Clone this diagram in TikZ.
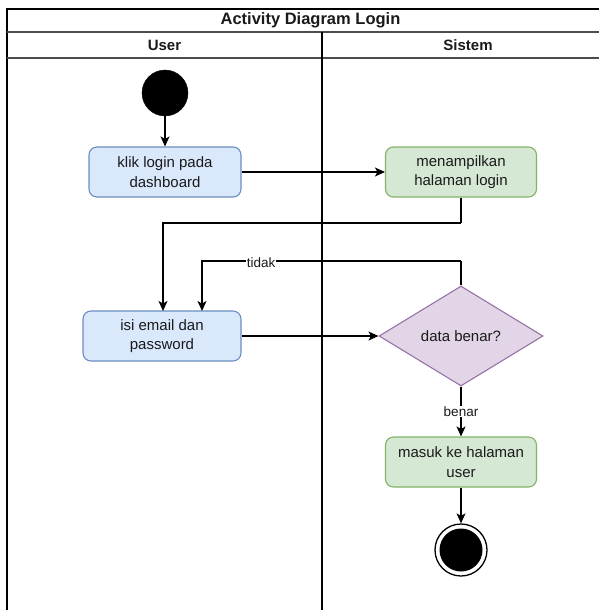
\documentclass[tikz,border=0pt]{standalone}
\usepackage{fontspec}
\setmainfont{Liberation Sans}
\usetikzlibrary{arrows.meta,shapes.geometric}

\definecolor{userfill}{HTML}{DAE8FC}
\definecolor{userline}{HTML}{6C8EBF}
\definecolor{sysfill}{HTML}{D5E8D4}
\definecolor{sysline}{HTML}{82B366}
\definecolor{decfill}{HTML}{E1D5E7}
\definecolor{decline}{HTML}{9673A6}
\definecolor{ink}{HTML}{1A1A1A}

\tikzset{
  bodytext/.style={font=\fontsize{15}{19.5}\selectfont, text=ink},
  activity/.style={bodytext, rounded corners=8pt, draw, line width=1.1pt,
    align=center, minimum height=50pt, inner sep=2pt},
  actuser/.style={activity, fill=userfill, draw=userline},
  actsys/.style={activity, fill=sysfill, draw=sysline, minimum width=151pt},
  decision/.style={bodytext, diamond, draw=decline, fill=decfill, line width=1.1pt,
    minimum width=164pt, minimum height=100pt, inner sep=0pt},
  startnode/.style={circle, fill=black, draw=black, minimum size=46pt, inner sep=0pt},
  endnode/.style={circle, draw=black, line width=1.3pt, minimum size=52pt, inner sep=0pt,
    path picture={\fill[black] (path picture bounding box.center) circle (21.5pt);}},
  flow/.style={line width=1.2pt, -{Stealth[length=10pt,width=9pt,inset=2.5pt]}},
  plainflow/.style={line width=1.2pt},
  lbl/.style={font=\fontsize{13.5}{16}\selectfont, text=ink, fill=white, inner sep=1pt},
  border/.style={line width=1.6pt, draw=black},
  divider/.style={line width=1.4pt, draw=black!70},
  lanehead/.style={font=\fontsize{15}{18}\selectfont\bfseries, text=ink},
}

\begin{document}
\begin{tikzpicture}[x=1pt, y=-1pt]
  \useasboundingbox (0,0) rectangle (599,610);

  % swimlane frame
  \draw[border] (7,610) -- (7,9) -- (600,9);
  \draw[divider] (7,32) -- (600,32);
  \draw[divider] (7,58) -- (600,58);
  \draw[line width=1.3pt] (322,32) -- (322,610);

  \node[lanehead, font=\fontsize{16.5}{19}\selectfont\bfseries] (title) at (310.5,20.5) {Activity Diagram Login};
  \node[lanehead] (laneuser) at (164.5,45) {User};
  \node[lanehead] (lanesys) at (468,45) {Sistem};

  % activities
  \node[startnode] (start) at (165,93) {};
  \node[actuser, minimum width=152pt] (klik) at (165,172) {klik login pada\\dashboard};
  \node[actsys] (tampil) at (461,172) {menampilkan\\halaman login};
  \node[actuser, minimum width=158pt] (isi) at (162,336) {isi email dan\\password};
  \node[decision] (cek) at (461,336) {data benar?};
  \node[actsys] (masuk) at (461,462) {masuk ke halaman\\user};
  \node[endnode] (end) at (461,550) {};

  % bend points
  \coordinate (bendA) at (461,223);
  \coordinate (bendB) at (461,261);
  \coordinate (inA) at (163,311);
  \coordinate (inB) at (202,311);

  % flows
  \draw[flow] (start) -- (klik);
  \draw[flow] (klik) -- (tampil);
  \draw[plainflow] (tampil.south) -- (bendA);
  \draw[flow] (bendA) -| (inA);
  \draw[plainflow] (cek.north) -- (bendB);
  \draw[flow] (bendB) -| node[lbl, pos=0.386, yshift=-2pt] {tidak} (inB);
  \draw[flow] (isi) -- (cek);
  \draw[flow] (cek) -- node[lbl] {benar} (masuk);
  \draw[flow] (masuk) -- (end);
\end{tikzpicture}
\end{document}
